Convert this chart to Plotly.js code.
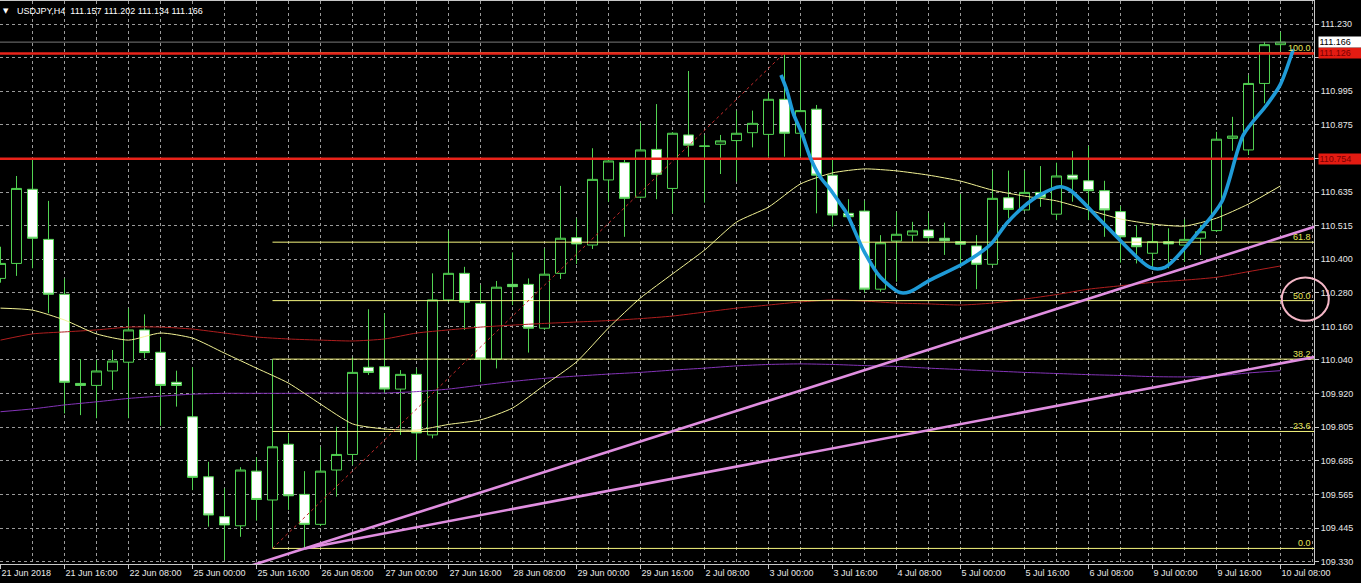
<!DOCTYPE html>
<html><head><meta charset="utf-8">
<script src="https://cdn.plot.ly/plotly-3.0.1.min.js"></script>
<style>html,body{margin:0;padding:0;background:#000;overflow:hidden}#chart{width:1361px;height:583px}</style>
</head><body><div id="chart"></div>
<script>
// ---- data (USDJPY H4, 21 Jun 2018 00:00 .. 10 Jul 2018 08:00, bar index 0..80) ----
const symbol = 'USDJPY,H4';
const openP = [110.331,110.384,110.646,110.469,110.275,109.960,109.953,110.004,110.035,110.149,
 110.070,109.964,109.842,109.630,109.489,109.457,109.650,109.548,109.745,109.568,
 109.462,109.654,109.709,110.017,110.019,109.940,109.992,109.778,110.255,110.349,
 110.243,110.046,110.310,110.310,110.155,110.349,110.475,110.449,110.679,110.740,
 110.618,110.787,110.649,110.838,110.799,110.805,110.818,110.846,110.840,110.964,
 110.844,110.929,110.696,110.561,110.569,110.293,110.463,110.484,110.502,110.473,
 110.461,110.446,110.381,110.616,110.573,110.635,110.558,110.696,110.676,110.641,
 110.567,110.475,110.420,110.461,110.449,110.473,110.500,110.826,110.785,111.020,
 111.157];
const highP = [110.443,110.693,110.755,110.605,110.331,110.046,110.043,110.078,110.225,110.204,
 110.123,110.005,110.017,109.683,109.589,109.664,109.699,110.045,109.784,109.650,
 109.736,109.807,110.052,110.222,110.208,110.007,110.013,110.349,110.500,110.372,
 110.308,110.322,110.423,110.331,110.437,110.658,110.543,110.791,110.755,110.755,
 110.881,110.947,110.848,111.064,110.838,110.838,110.924,110.924,110.987,111.128,
 111.114,110.944,110.752,110.611,110.606,110.484,110.567,110.531,110.563,110.528,
 110.629,110.484,110.712,110.712,110.712,110.728,110.740,110.781,110.799,110.676,
 110.587,110.520,110.526,110.508,110.540,110.520,110.849,110.902,111.050,111.167,
 111.202];
const lowP = [110.316,110.340,110.367,110.208,109.854,109.848,109.837,109.937,109.837,110.049,
 109.810,109.878,109.583,109.454,109.336,109.418,109.475,109.377,109.513,109.377,
 109.456,109.560,109.672,109.990,109.925,109.778,109.689,109.766,110.248,110.149,
 109.966,110.013,110.237,110.069,110.149,110.329,110.382,110.435,110.602,110.478,
 110.614,110.611,110.561,110.761,110.599,110.700,110.673,110.794,110.761,110.761,
 110.761,110.561,110.514,110.537,110.281,110.284,110.319,110.461,110.461,110.414,
 110.379,110.293,110.375,110.543,110.569,110.584,110.537,110.602,110.537,110.478,
 110.387,110.384,110.372,110.367,110.390,110.414,110.495,110.782,110.767,110.950,
 111.134];
const closeP = [110.384,110.649,110.473,110.275,109.964,109.953,110.004,110.039,110.149,110.069,
 109.953,109.953,109.628,109.495,109.460,109.654,109.550,109.736,109.563,109.462,
 109.650,109.709,109.999,109.999,109.940,109.992,109.785,110.255,110.349,110.247,
 110.046,110.300,110.302,110.155,110.346,110.473,110.453,110.681,110.746,110.614,
 110.785,110.699,110.844,110.802,110.798,110.817,110.844,110.879,110.964,110.844,
 110.924,110.696,110.555,110.549,110.293,110.457,110.487,110.499,110.475,110.464,
 110.452,110.381,110.614,110.575,110.635,110.618,110.693,110.682,110.641,110.573,
 110.478,110.443,110.461,110.453,110.469,110.496,110.823,110.834,111.020,111.157,
 111.166];

// moving averages, sampled every 2 bars
const maBars = [0,2,4,6,8,10,12,14,16,18,20,22,24,26,28,30,32,34,36,38,40,42,44,46,48,50,52,54,56,58,60,62,64,66,68,70,72,74,76,78,80];
const maYellow = [110.226,110.219,110.184,110.135,110.113,110.138,110.120,110.067,110.014,109.961,109.887,109.817,109.799,109.795,109.815,109.831,109.873,109.954,110.036,110.156,110.262,110.347,110.431,110.530,110.583,110.665,110.704,110.718,110.711,110.696,110.675,110.643,110.622,110.605,110.573,110.541,110.523,110.516,110.544,110.594,110.658];
const maRed = [110.113,110.135,110.142,110.149,110.159,110.159,110.152,110.138,110.124,110.117,110.113,110.110,110.117,110.138,110.149,110.159,110.166,110.172,110.177,110.182,110.189,110.198,110.212,110.226,110.237,110.248,110.255,110.251,110.244,110.241,110.237,110.244,110.258,110.274,110.293,110.305,110.317,110.325,110.335,110.355,110.375];
const maPurple = [109.860,109.870,109.884,109.895,109.907,109.915,109.922,109.925,109.925,109.925,109.926,109.926,109.926,109.931,109.940,109.954,109.967,109.978,109.986,109.993,109.999,110.007,110.014,110.022,110.027,110.029,110.027,110.023,110.020,110.014,110.009,110.004,109.999,109.995,109.991,109.988,109.984,109.983,109.986,109.997,110.005];

// x-axis labels (every 4 bars)
const tickBars = [0,4,8,12,16,20,24,28,32,36,40,44,48,52,56,60,64,68,72,76,80];
const tickLabels = ['21 Jun 2018','21 Jun 16:00','22 Jun 08:00','25 Jun 00:00','25 Jun 16:00','26 Jun 08:00','27 Jun 00:00','27 Jun 16:00','28 Jun 08:00','29 Jun 00:00','29 Jun 16:00','2 Jul 08:00','3 Jul 00:00','3 Jul 16:00','4 Jul 08:00','5 Jul 00:00','5 Jul 16:00','6 Jul 08:00','9 Jul 00:00','9 Jul 16:00','10 Jul 08:00'];
// price scale (labels hidden under the red line price boxes are left blank)
const yTickVals = [109.330,109.449,109.568,109.686,109.805,109.924,110.043,110.161,110.280,110.399,110.518,110.636,110.755,110.874,110.993,111.111,111.230];
const yTickText = ['109.330','109.445','109.565','109.685','109.805','109.920','110.040','110.160','110.280','110.400','110.515','110.635','','110.875','110.995','','111.230'];

// objects
const hLinePrices = [111.126, 110.754];
const bidPrice = 111.166;
const fibBars = [17, 49];
const fibPrices = [109.377, 111.128];
const fibRatios = [0, 0.236, 0.382, 0.5, 0.618, 1.0];
const fibLabels = ['0.0','23.6','38.2','50.0','61.8','100.0'];
const upperTrendBars = [19.03, 82.47];
const upperTrendPrices = [109.377, 110.520];
const lowerTrendBars = [19.03, 82.09];
const lowerTrendPrices = [109.377, 110.053];
const blueBars = [48.78,49.14,49.55,50.08,50.59,51.22,51.84,52.47,52.89,53.93,54.97,56.22,56.84,58.09,60.18,61.84,62.89,63.93,64.97,66.22,66.84,69.14,71.84,72.78,74.97,76.33,77.68,79.14,79.97,80.80];
const bluePrices = [111.050,110.997,110.914,110.844,110.761,110.690,110.647,110.596,110.561,110.431,110.337,110.281,110.284,110.325,110.384,110.449,110.526,110.584,110.626,110.655,110.643,110.514,110.370,110.370,110.502,110.602,110.838,110.944,111.014,111.141];
const circleCenter = [81.55, 110.258];   // bar, price
const circleRadius = [1.47, 0.0765];     // bars, price

// ---- drawing ----
const X_RANGE = [-0.03125, 82.09375];
const Y_RANGE = [109.3219, 111.3113];
const GREEN = '#52d452';
const GRID = '#9a9a9a';
const FONT = 'Liberation Sans, Arial, sans-serif';
const idx = openP.map((_, i) => i);
const traces = [];

traces.push({
  type: 'candlestick', x: idx, open: openP, high: highP, low: lowP, close: closeP,
  increasing: {line: {color: GREEN, width: 1}, fillcolor: '#000000'},
  decreasing: {line: {color: GREEN, width: 1}, fillcolor: '#ffffff'},
  whiskerwidth: 0, hoverinfo: 'skip', showlegend: false
});
function line(x, y, color, width, extra) {
  return Object.assign({type: 'scatter', mode: 'lines', x: x, y: y, line: Object.assign({color: color, width: width}, extra || {}), hoverinfo: 'skip', showlegend: false});
}
traces.push(line(maBars, maPurple, '#8434b8', 1, {shape: 'spline', smoothing: 0.6}));
traces.push(line(maBars, maRed, '#b01e1e', 1, {shape: 'spline', smoothing: 0.6}));
traces.push(line(maBars, maYellow, '#f2f294', 1, {shape: 'spline', smoothing: 0.6}));

// fibonacci levels
const fibLevels = fibRatios.map(r => fibPrices[0] + r * (fibPrices[1] - fibPrices[0]));
fibLevels.forEach(lv => traces.push(line([fibBars[0], X_RANGE[1] + 2], [lv, lv], '#f5f57e', 1)));
traces.push(line(fibBars, fibPrices, '#c42a2a', 1, {dash: '3px,3px'}));

// bid line and horizontal red lines
traces.push(line([X_RANGE[0] - 1, X_RANGE[1] + 1], [bidPrice, bidPrice], '#7a7a7a', 1));
hLinePrices.forEach(p => traces.push(line([X_RANGE[0] - 1, X_RANGE[1] + 1], [p, p], '#e8231a', 2.5)));

// trend lines
function extend(bars, prices, fromBar, toBar) {
  const s = (prices[1] - prices[0]) / (bars[1] - bars[0]);
  return [[fromBar, toBar], [prices[0] + s * (fromBar - bars[0]), prices[0] + s * (toBar - bars[0])]];
}
const up = extend(upperTrendBars, upperTrendPrices, 8, X_RANGE[1] + 2);
const lo = extend(lowerTrendBars, lowerTrendPrices, lowerTrendBars[0], X_RANGE[1] + 2);
traces.push(line(up[0], up[1], '#e08ee0', 2.6));
traces.push(line(lo[0], lo[1], '#e08ee0', 2.6));

// hand drawn blue curve
traces.push(line(blueBars, bluePrices, '#1f9bd8', 3.6, {shape: 'spline', smoothing: 0.8}));

// annotations
const PW = 1314, PH = 563;
const px = v => v / PW;
const py = v => (564 - v) / PH;
const annotations = [];
annotations.push({xref: 'paper', yref: 'paper', x: px(6), y: py(11), xanchor: 'center', yanchor: 'middle', text: '▼', showarrow: false, font: {family: 'DejaVu Sans', size: 7, color: '#ffffff'}});
annotations.push({xref: 'paper', yref: 'paper', x: px(15), y: py(11), xanchor: 'left', yanchor: 'middle', showarrow: false,
  text: symbol + '\u00a0\u00a0' + [openP[80], highP[80], lowP[80], closeP[80]].map(v => v.toFixed(3)).join(' '),
  font: {family: FONT, size: 9, color: '#ffffff'}});
fibLevels.forEach((lv, i) => annotations.push({xref: 'paper', yref: 'y', x: 1, xshift: -1, y: lv, xanchor: 'right', yanchor: 'bottom', yshift: -2,
  text: fibLabels[i], showarrow: false, font: {family: FONT, size: 9, color: '#e6e65a'}}));
function priceBox(p, bg, fg) {
  return {xref: 'paper', yref: 'y', x: 1, xshift: 4, y: p, xanchor: 'left', yanchor: 'middle', text: p.toFixed(3), showarrow: false,
    bgcolor: bg, width: 41, height: 9, align: 'left', borderpad: 0.5, font: {family: FONT, size: 9, color: fg}};
}
hLinePrices.forEach(p => annotations.push(priceBox(p, '#e31b12', '#7a0000')));
annotations.push(priceBox(bidPrice, '#ffffff', '#000000'));

// circle (converted to paper so it may overlap the price scale)
const bx = b => (b - X_RANGE[0]) / (X_RANGE[1] - X_RANGE[0]);
const byp = p => (p - Y_RANGE[0]) / (Y_RANGE[1] - Y_RANGE[0]);
const shapes = [{type: 'circle', xref: 'paper', yref: 'paper', layer: 'above',
  x0: bx(circleCenter[0] - circleRadius[0]), x1: bx(circleCenter[0] + circleRadius[0]),
  y0: byp(circleCenter[1] - circleRadius[1]), y1: byp(circleCenter[1] + circleRadius[1]),
  line: {color: '#f4b6c6', width: 2}}];

const layout = {
  width: 1361, height: 583,
  paper_bgcolor: '#000000', plot_bgcolor: '#000000',
  margin: {l: 0, r: 47, t: 1, b: 19, autoexpand: false},
  showlegend: false, boxgap: 0.2, boxgroupgap: 0.22,
  font: {family: FONT, size: 9, color: '#e8e8e8'},
  xaxis: {range: X_RANGE, tickmode: 'array', tickvals: tickBars, ticktext: tickLabels,
    ticks: 'outside', ticklen: 4, tickcolor: '#c8c8c8', ticklabelposition: 'outside right',
    tickfont: {family: FONT, size: 9, color: '#e8e8e8'},
    showgrid: true, gridcolor: GRID, griddash: '3px,3px', gridwidth: 1,
    minor: {tickmode: 'linear', tick0: 0, dtick: 2, showgrid: true, gridcolor: GRID, griddash: '3px,3px', ticks: ''},
    showline: true, linecolor: '#c8c8c8', linewidth: 1, mirror: true, zeroline: false,
    rangeslider: {visible: false}, fixedrange: true},
  yaxis: {side: 'right', range: Y_RANGE, tickmode: 'array', tickvals: yTickVals, ticktext: yTickText,
    ticks: 'outside', ticklen: 4, tickcolor: '#c8c8c8',
    tickfont: {family: FONT, size: 9, color: '#e8e8e8'},
    showgrid: true, gridcolor: GRID, griddash: '3px,3px', gridwidth: 1,
    showline: true, linecolor: '#c8c8c8', linewidth: 1, zeroline: false, fixedrange: true},
  annotations: annotations, shapes: shapes
};
Plotly.newPlot('chart', traces, layout, {staticPlot: true, displayModeBar: false});
</script>
</body></html>
